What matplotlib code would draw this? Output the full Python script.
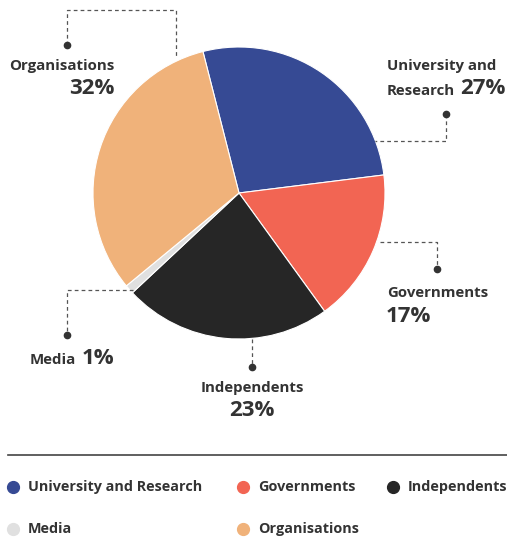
import matplotlib.pyplot as plt

# data
labels = ['University and Research', 'Governments', 'Independents', 'Media', 'Organisations']
values = [27, 17, 23, 1, 32]
colors = ['#364a94', '#f26553', '#262626', '#e0e0e0', '#f0b27a']

W, H = 507, 538
txt = '#333333'
line_c = '#555555'
plt.rcParams['font.family'] = ['Open Sans', 'DejaVu Sans']

fig = plt.figure(figsize=(W / 100, H / 100), dpi=100)
ax = fig.add_axes([0, 0, 1, 1])


def Y(y):
    return H - y


# pie
ax.pie(values, colors=colors, startangle=104.3, counterclock=False,
       center=(239, Y(193)), radius=146, frame=True,
       wedgeprops=dict(edgecolor='white', linewidth=0.8))
ax.set_xlim(0, W)
ax.set_ylim(0, H)
ax.set_aspect('equal')
ax.axis('off')

# connectors (pixel paths)
paths = [
    [(67, 45), (67, 10), (176, 10), (176, 58)],
    [(446, 114), (446, 141), (375, 141)],
    [(380, 242), (437, 242), (437, 269)],
    [(133, 290), (67, 290), (67, 335)],
    [(252, 339), (252, 367)],
]
dots = [(67, 45), (446, 114), (437, 269), (67, 335), (252, 367)]
for p in paths:
    ax.plot([q[0] for q in p], [Y(q[1]) for q in p], color=line_c,
            lw=0.9, ls=(0, (3, 2.5)), zorder=1)
for d in dots:
    ax.plot(d[0], Y(d[1]), 'o', color=txt, ms=4.5, zorder=3)

lab_fs = 10.8
pct_fs = 16
kw = dict(va='center', color=txt, weight='bold')

fig.canvas.draw()
rend = fig.canvas.get_renderer()


def after(t, gap=5):
    bb = t.get_window_extent(rend)
    return bb.x1 + gap


# Organisations
ax.text(114, Y(66), 'Organisations', ha='right', fontsize=lab_fs, **kw)
ax.text(114, Y(89), f'{values[4]}%', ha='right', fontsize=pct_fs, **kw)
# University and Research
ax.text(387, Y(66), 'University and', ha='left', fontsize=lab_fs, **kw)
t = ax.text(387, Y(91), 'Research', ha='left', fontsize=lab_fs, **kw)
ax.text(after(t), Y(89), f'{values[0]}%', ha='left', fontsize=pct_fs, **kw)
# Governments
ax.text(387, Y(293), 'Governments', ha='left', fontsize=lab_fs, **kw)
ax.text(386, Y(316), f'{values[1]}%', ha='left', fontsize=pct_fs, **kw)
# Media
t = ax.text(30, Y(360), 'Media', ha='left', fontsize=lab_fs, **kw)
ax.text(after(t), Y(358), f'{values[3]}%', ha='left', fontsize=pct_fs, **kw)
# Independents
ax.text(252, Y(388), 'Independents', ha='center', fontsize=lab_fs, **kw)
ax.text(252, Y(411), f'{values[2]}%', ha='center', fontsize=pct_fs, **kw)

# separator
ax.plot([8, 507], [Y(455), Y(455)], color='#444444', lw=1.2)

# legend
leg_pos = [(13, 487), (243, 487), (393, 487), (13, 529), (243, 529)]
for (x, y), lab, c in zip(leg_pos, labels, colors):
    ax.plot(x, Y(y), 'o', color=c, ms=8.5)
    ax.text(x + 15, Y(y), lab, ha='left', fontsize=10.4, **kw)

fig.savefig('out.png', dpi=100)
